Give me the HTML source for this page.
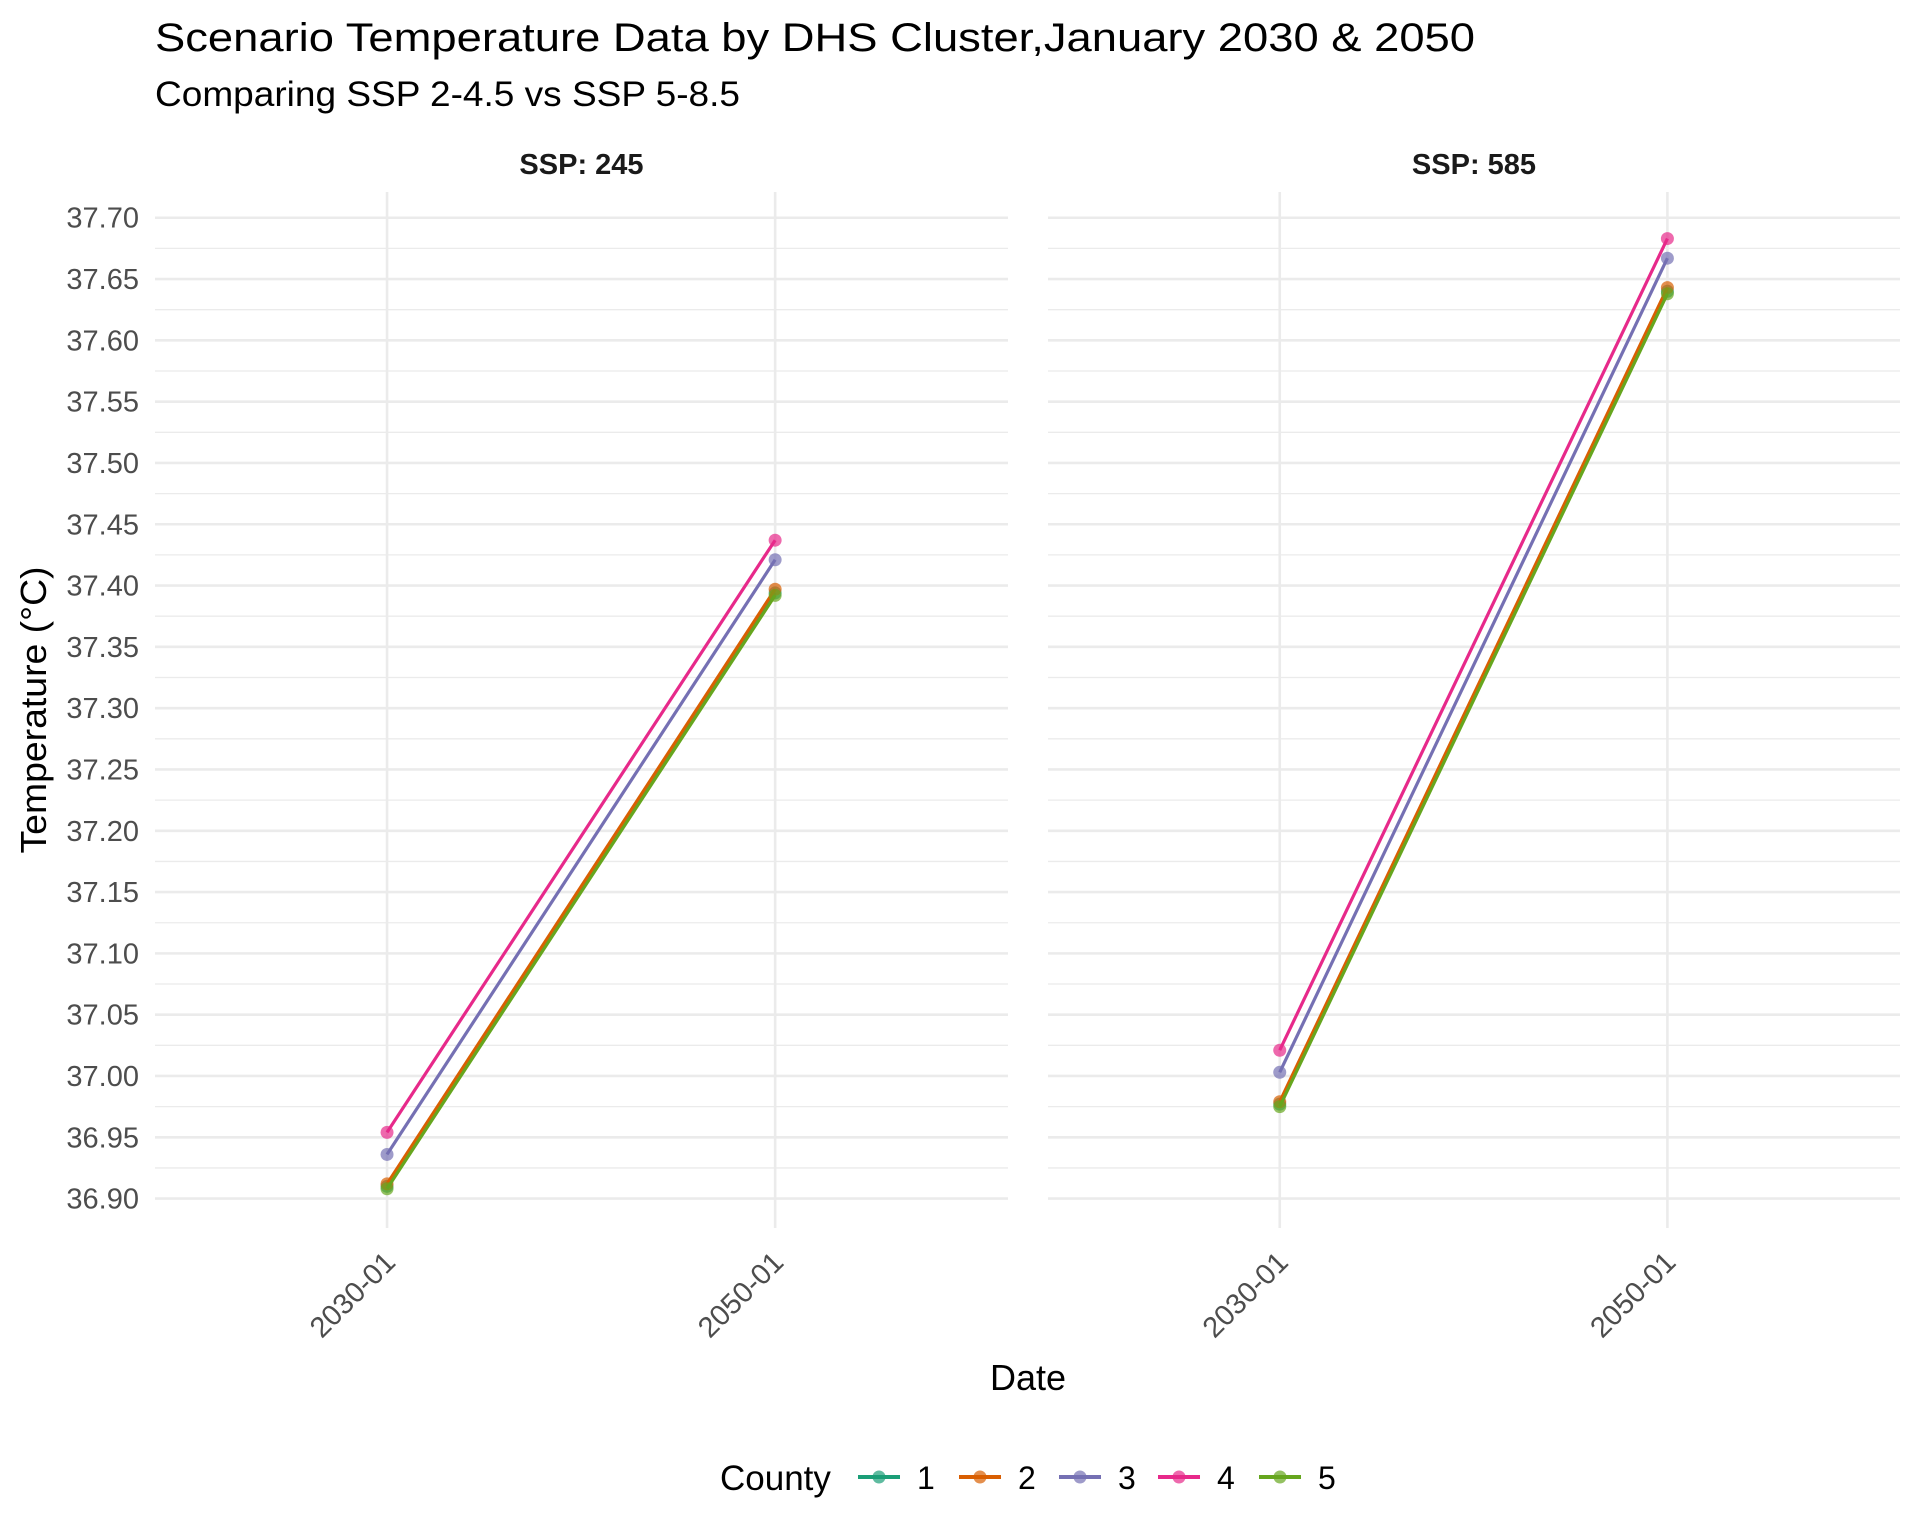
<!DOCTYPE html>
<html><head><meta charset="utf-8"><title>Scenario Temperature Data</title>
<style>html,body{margin:0;padding:0;background:#fff}svg{display:block}text{font-family:"Liberation Sans",sans-serif}</style>
</head><body>
<svg id="chart" width="1920" height="1536" viewBox="0 0 1920 1536" xmlns="http://www.w3.org/2000/svg">
<rect width="1920" height="1536" fill="#fff"/>
<text x="155" y="51" font-size="40" fill="#000" textLength="1320" lengthAdjust="spacingAndGlyphs">Scenario Temperature Data by DHS Cluster,January 2030 &amp; 2050</text>
<text x="155" y="106" font-size="35" fill="#000" textLength="585" lengthAdjust="spacingAndGlyphs">Comparing SSP 2-4.5 vs SSP 5-8.5</text>
<g id="panels"></g>
<text transform="translate(46,710) rotate(-90)" text-anchor="middle" font-size="36" fill="#000" textLength="287" lengthAdjust="spacingAndGlyphs">Temperature (°C)</text>
<text x="1028" y="1390" text-anchor="middle" font-size="36" fill="#000">Date</text>
<g id="legend"></g>
</svg>
<script>
const panelTitles = ["SSP: 245", "SSP: 585"];
const dates = ["2030-01", "2050-01"];
const counties = ["1", "2", "3", "4", "5"];
const colors = ["#1b9e77", "#d95f02", "#7570b3", "#e7298a", "#66a61e"];
const yTicks = [36.90, 36.95, 37.00, 37.05, 37.10, 37.15, 37.20, 37.25, 37.30, 37.35, 37.40, 37.45, 37.50, 37.55, 37.60, 37.65, 37.70];
// values per county [2030, 2050]
const ssp245 = [[36.910, 37.394], [36.912, 37.397], [36.936, 37.421], [36.954, 37.437], [36.908, 37.392]];
const ssp585 = [[36.977, 37.640], [36.979, 37.643], [37.003, 37.667], [37.021, 37.683], [36.975, 37.638]];
const panelData = [ssp245, ssp585];

const NS = "http://www.w3.org/2000/svg";
function mk(tag, attrs, parent) { const e = document.createElementNS(NS, tag); for (const k in attrs) e.setAttribute(k, attrs[k]); parent.appendChild(e); return e; }
const yMin = 36.876, yMax = 37.721, pTop = 192, pBot = 1228;
function yScale(v) { return pBot - (v - yMin) / (yMax - yMin) * (pBot - pTop); }
const panels = [{x0: 155, x1: 1008}, {x0: 1048, x1: 1900}];
function xScale(p, i) { const w = panels[p].x1 - panels[p].x0; return panels[p].x0 + w * (0.272 + i * 0.455); }

const root = document.getElementById('panels');
panels.forEach((P, p) => {
  const g = mk('g', {}, root);
  
  
  for (let i = 0; i <= yTicks.length; i++) {
    const v = yTicks[0] - 0.025 + i * 0.05;
    if (v < yMin || v > yMax) continue;
    const l = mk('line', {x1: P.x0, x2: P.x1, y1: yScale(v), y2: yScale(v), stroke: '#ebebeb', 'stroke-width': 1.3}, g);
    
    
  }
  yTicks.forEach(v => {
    const l = mk('line', {x1: P.x0, x2: P.x1, y1: yScale(v), y2: yScale(v), stroke: '#ebebeb', 'stroke-width': 2.6}, g);
    
    
  });
  dates.forEach((d, i) => {
    const x = xScale(p, i);
    const l = mk('line', {x1: x, x2: x, y1: pTop, y2: pBot, stroke: '#ebebeb', 'stroke-width': 2.6}, g);
    
    
    const t = mk('text', {transform: `translate(${x + 10},${pBot + 36}) rotate(-45)`, 'text-anchor': 'end', 'font-size': 29, fill: '#4d4d4d'}, g);
    t.textContent = d;
    
    
  });
  const ft = mk('text', {x: (P.x0 + P.x1) / 2, y: 174, 'text-anchor': 'middle', 'font-size': 29, 'font-weight': 'bold', fill: '#1a1a1a'}, g);
  ft.textContent = panelTitles[p];
  
  
  if (p === 0) {
    yTicks.forEach(v => {
      const t = mk('text', {x: 139, y: yScale(v) + 10, 'text-anchor': 'end', 'font-size': 29, fill: '#4d4d4d'}, g);
      t.textContent = v.toFixed(2);
      
      
    });
  }
  panelData[p].forEach((vals, c) => {
    const pts = vals.map((v, i) => [xScale(p, i), yScale(v)]);
    const pl = mk('polyline', {points: pts.map(q => q.join(',')).join(' '), fill: 'none', stroke: colors[c], 'stroke-width': 3.2}, g);
    
    
    pts.forEach(q => {
      const ci = mk('circle', {cx: q[0], cy: q[1], r: 6.5, fill: colors[c], 'fill-opacity': 0.7}, g);
      
      
    });
  });
});

const lg = document.getElementById('legend');
const lt = mk('text', {x: 720, y: 1490, 'font-size': 35, fill: '#000'}, lg);
lt.textContent = 'County';


const keyX = [879, 980, 1080, 1179, 1280];
counties.forEach((c, i) => {
  const g = mk('g', {}, lg);
  
  
  mk('line', {x1: keyX[i] - 21, x2: keyX[i] + 21, y1: 1477, y2: 1477, stroke: colors[i], 'stroke-width': 4}, g);
  mk('circle', {cx: keyX[i], cy: 1477, r: 6.5, fill: colors[i], 'fill-opacity': 0.7}, g);
  const t = mk('text', {x: keyX[i] + 38, y: 1489, 'font-size': 32, fill: '#000'}, g);
  t.textContent = c;
});
</script>
</body></html>
